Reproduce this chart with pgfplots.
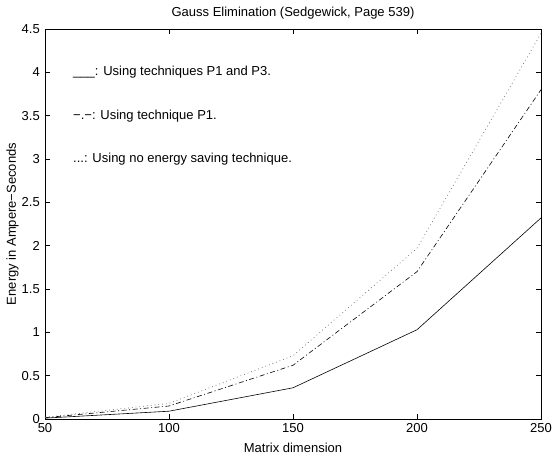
\documentclass[border=0pt]{standalone}
\usepackage{pgfplots}
\pgfplotsset{compat=1.18}
\usepackage{fontspec}
\setmainfont{Liberation Sans}
\begin{document}
\begin{tikzpicture}
\useasboundingbox (-45bp,-40bp) rectangle (508bp,419bp);
\begin{axis}[
  at={(0,0)}, anchor=south west,
  scale only axis, width=496bp, height=390bp,
  xmin=50, xmax=250, ymin=0, ymax=4.5,
  xtick={50,100,150,200,250},
  ytick={0,0.5,1,1.5,2,2.5,3,3.5,4,4.5},
  yticklabels={0,0.5,1,1.5,2,2.5,3,3.5,4,4.5},
  xticklabels={50,100,150,200,250},
  tick align=inside, tick pos=both,
  major tick length=5bp,
  axis line style={draw=black, line width=0.9pt},
  major tick style={draw=black, line width=0.6pt},
  font=\fontsize{13bp}{15bp}\selectfont,
  title={Gauss Elimination (Sedgewick, Page 539)},
  title style={at={(0.5,1)}, anchor=base, yshift=7bp, inner sep=0pt},
  xlabel={Matrix dimension},
  xlabel style={at={(0.5,0)}, anchor=base, yshift=-33bp, inner sep=0pt},
  ylabel={Energy in Ampere−Seconds},
  ylabel style={at={(0,0.5)}, anchor=base, yshift=29bp, inner sep=0pt},
  xticklabel style={inner sep=0pt, yshift=-4bp},
  yticklabel style={inner sep=0pt, xshift=-5bp},
  clip=false,
]
% energy with P1 and P3
\addplot[black, line width=0.6pt] coordinates {
  (50,0.01) (100,0.09) (150,0.36) (200,1.03) (250,2.32)};
% energy with P1 only
\addplot[black, line width=0.6pt, dash pattern=on 5bp off 2.5bp on 1bp off 2.5bp] coordinates {
  (50,0.015) (100,0.15) (150,0.62) (200,1.70) (250,3.80)};
% no energy saving
\addplot[black!55, line width=0.7pt, dash pattern=on 0.8bp off 3bp] coordinates {
  (50,0.02) (100,0.18) (150,0.73) (200,1.97) (250,4.45)};
\node[anchor=west, inner sep=0pt] at (axis cs:61.3,4.0) {\_\_\_: Using techniques P1 and P3.};
\node[anchor=west, inner sep=0pt] at (axis cs:61.3,3.5) {−.−: Using technique P1.};
\node[anchor=west, inner sep=0pt] at (axis cs:61.3,3.0) {...: Using no energy saving technique.};
\end{axis}
\end{tikzpicture}
\end{document}
